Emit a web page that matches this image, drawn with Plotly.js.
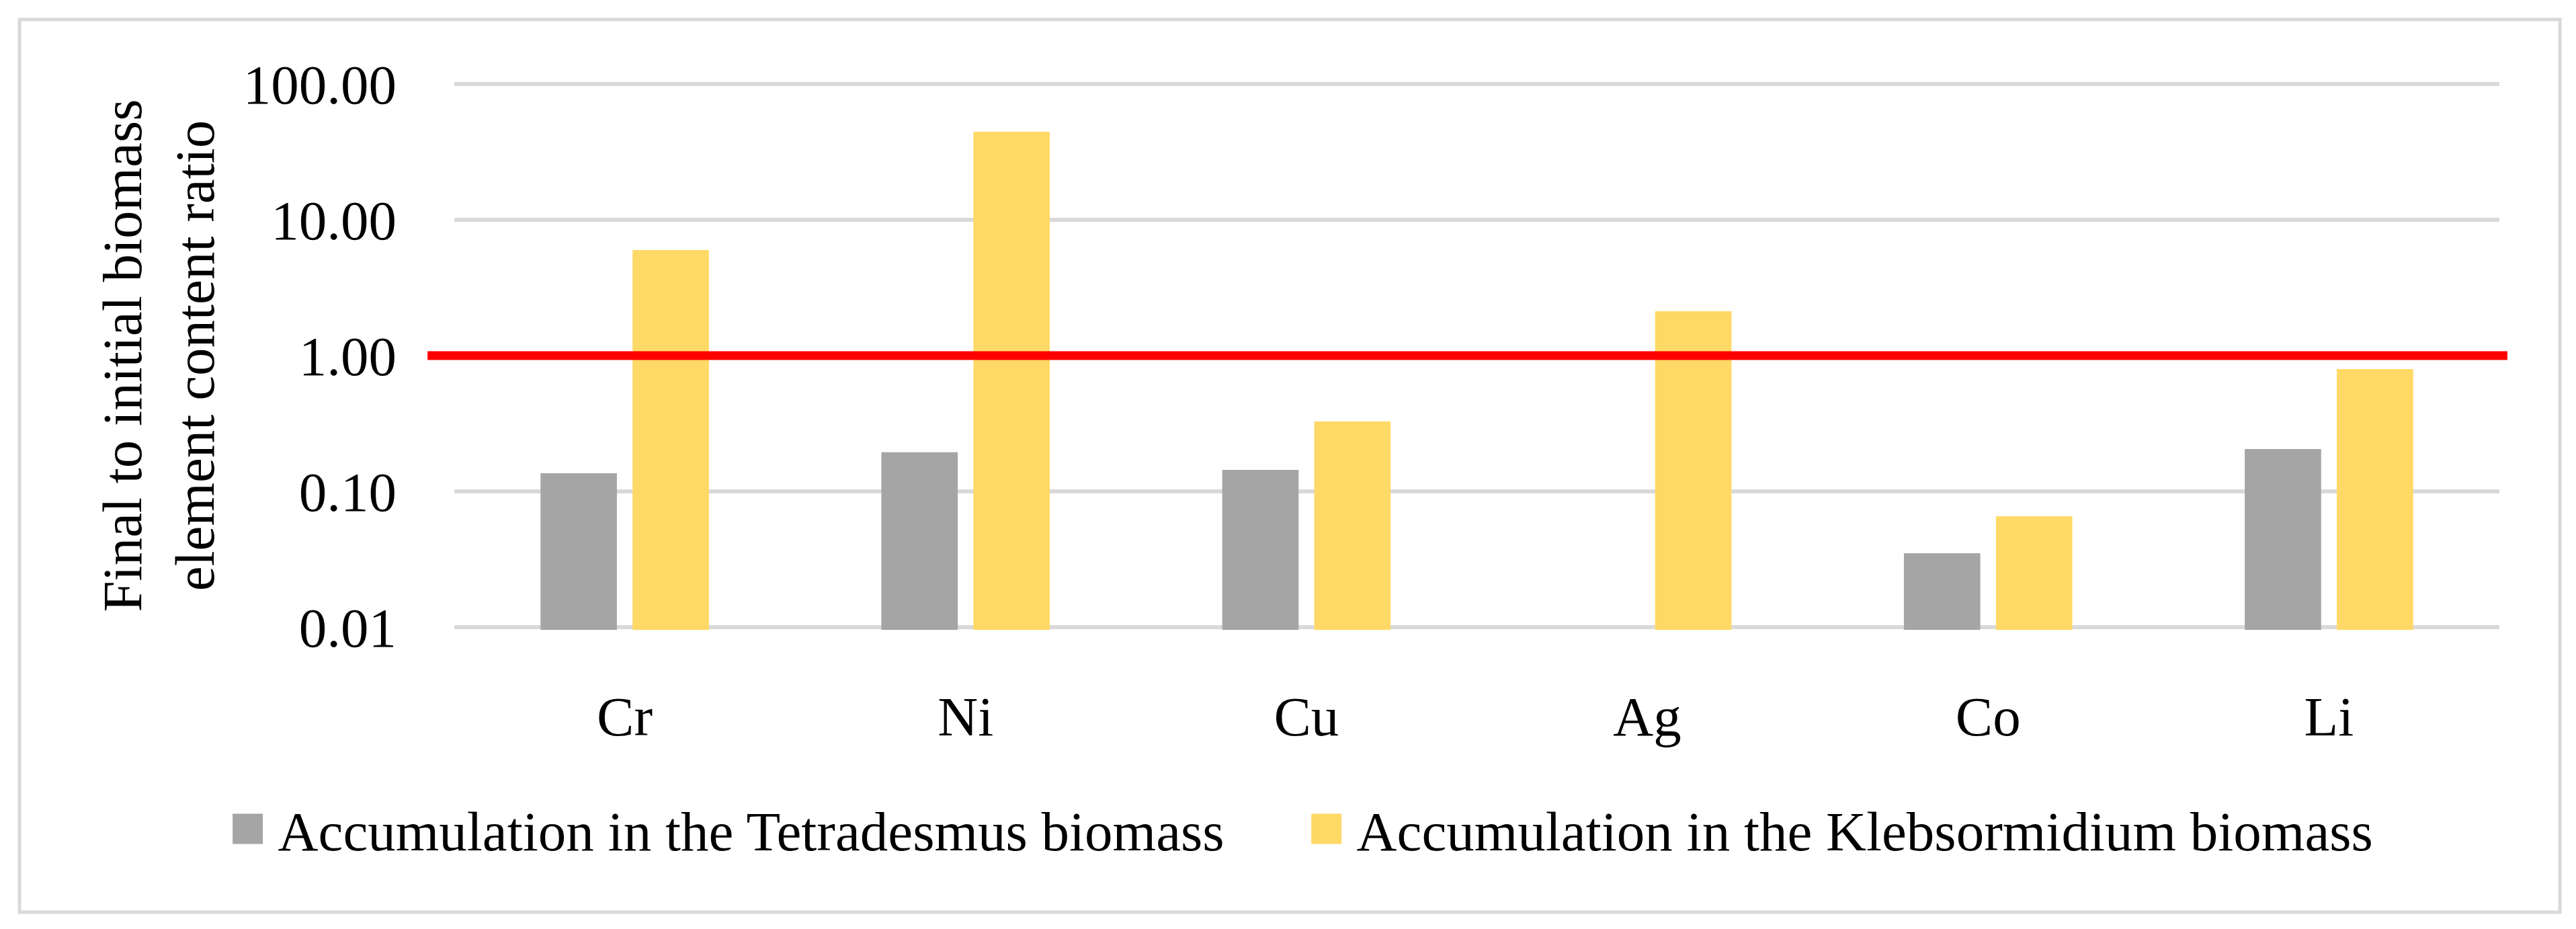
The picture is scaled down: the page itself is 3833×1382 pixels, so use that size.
<!DOCTYPE html>
<html>
<head>
<meta charset="utf-8">
<script src="https://cdn.plot.ly/plotly-3.0.1.min.js"></script>
<style>
html, body { margin: 0; padding: 0; background: #ffffff; }
#chart { width: 3833px; height: 1382px; }
</style>
</head>
<body>
<div id="chart"></div>
<script>
// ---- data ----
const elements = ['Cr', 'Ni', 'Cu', 'Ag', 'Co', 'Li'];
const tetradesmusRatio = [0.136, 0.194, 0.144, null, 0.035, 0.205];
const klebsormidiumRatio = [5.98, 44.5, 0.327, 2.12, 0.0656, 0.796];
const seriesNames = ['Accumulation in the Tetradesmus biomass', 'Accumulation in the Klebsormidium biomass'];
const yTickValues = [0.01, 0.1, 1, 10, 100];
const yTickLabels = ['0.01', '0.10', '1.00', '10.00', '100.00'];
const thresholdRatio = 1;
const yAxisTitle = 'Final to initial biomass<br>element content ratio';

const FONT = 'Liberation Serif, Times New Roman, serif';
const FS = 83;

const data = [
  {
    type: 'bar',
    name: seriesNames[0],
    x: elements,
    y: tetradesmusRatio,
    marker: { color: '#A5A5A5', line: { width: 0 } }
  },
  {
    type: 'bar',
    name: seriesNames[1],
    x: elements,
    y: klebsormidiumRatio,
    marker: { color: '#FFD966', line: { width: 0 } }
  }
];

// plot area: 121 .. 937 px (4.04 decades), so 0.01 and 100 grid lines sit fully inside
const layout = {
  width: 3833,
  height: 1382,
  paper_bgcolor: '#ffffff',
  plot_bgcolor: '#ffffff',
  margin: { l: 676, r: 114, t: 121, b: 445, pad: 0 },
  font: { family: FONT, size: FS, color: '#000000' },
  barmode: 'group',
  bargap: 0.46,
  bargroupgap: 0.17,
  showlegend: true,
  legend: {
    orientation: 'h',
    x: -0.1158,
    xanchor: 'left',
    y: -0.3627,
    yanchor: 'middle',
    itemwidth: 80,
    entrywidth: 1510,
    entrywidthmode: 'pixels',
    font: { family: FONT, size: FS, color: '#000000' },
    bgcolor: 'rgba(0,0,0,0)',
    borderwidth: 0
  },
  xaxis: {
    type: 'category',
    showgrid: false,
    zeroline: false,
    showline: false,
    ticks: '',
    ticklabelstandoff: 73,
    tickfont: { family: FONT, size: FS, color: '#000000' }
  },
  yaxis: {
    type: 'log',
    range: [-2.02, 2.02],
    tickvals: yTickValues,
    ticktext: yTickLabels,
    showgrid: true,
    gridcolor: '#D9D9D9',
    gridwidth: 6,
    zeroline: false,
    showline: false,
    ticks: '',
    ticklabelstandoff: 85,
    tickfont: { family: FONT, size: FS, color: '#000000' },
    title: {
      text: yAxisTitle,
      font: { family: FONT, size: FS, color: '#000000' },
      standoff: 15
    }
  },
  shapes: [
    {
      type: 'line',
      xref: 'paper', yref: 'y',
      x0: -0.0131, x1: 1.0039,
      y0: thresholdRatio, y1: thresholdRatio,
      line: { color: '#FF0000', width: 13 },
      layer: 'above'
    },
    {
      type: 'rect',
      xref: 'paper', yref: 'paper',
      x0: -0.2126, x1: 1.0296,
      y0: -0.5147, y1: 1.1127,
      line: { color: '#D9D9D9', width: 5 },
      fillcolor: 'rgba(0,0,0,0)',
      layer: 'below'
    }
  ]
};

Plotly.newPlot('chart', data, layout, { staticPlot: true, displayModeBar: false }).then(function (gd) {
  gd.querySelectorAll('.legend .legendpoints path').forEach(function (p) {
    const t = p.getAttribute('transform') || '';
    p.setAttribute('transform', t + ' scale(3.75)');
  });
});
</script>
</body>
</html>
